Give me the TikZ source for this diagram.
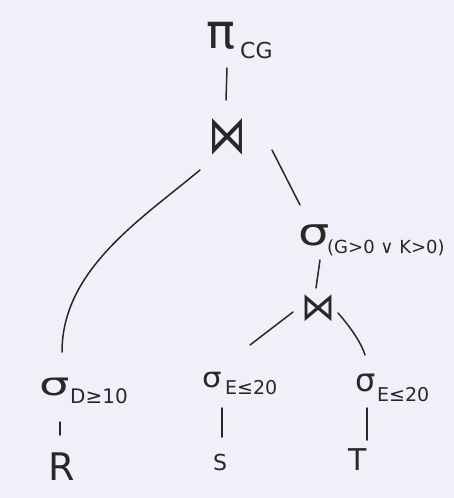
\documentclass[tikz,border=0pt]{standalone}
\usepackage{fontspec}
\setmainfont{DejaVu Sans}
\usetikzlibrary{calc}
\definecolor{paper}{RGB}{240,241,248}
\definecolor{ink}{RGB}{40,40,40}
\tikzset{
  sym/.style={inner sep=0pt, text=ink},
  sub/.style={inner sep=0pt, text=ink, anchor=west},
  edge/.style={draw=ink, line width=1.5pt, line cap=round}
}
\newcommand{\fs}[1]{\fontsize{#1}{#1}\selectfont}
\begin{document}
\begin{tikzpicture}[x=1pt,y=-1pt]
\fill[paper] (0,0) rectangle (454,498);
\useasboundingbox (0,0) rectangle (454,498);
% nodes
\node[sym] (pi) at (221,36) {\fs{48}π};
\node[sub] (picg) at (240,50) {\fs{22}CG};
\node[sym] (j1) at (227,137) {\scalebox{1}[1.4]{\fs{38}⋈}};
\node[sym] (s1) at (314,235) {\scalebox{1.3}[1]{\fs{38}σ}};
\node[sub] (s1sub) at (327,248) {\fs{18}(G>0 ∨ K>0)};
\node[sym] (j2) at (318,308) {\scalebox{1}[1.15]{\fs{34}⋈}};
\node[sym] (sD) at (55,387) {\scalebox{1.5}[1]{\fs{32}σ}};
\node[sub] (sDsub) at (70,396) {\fs{20}D≥10};
\node[sym] (sE1) at (212,380) {\scalebox{1.1}[1]{\fs{28}σ}};
\node[sub] (sE1sub) at (225,388) {\fs{19}E≤20};
\node[sym] (sE2) at (366,383) {\fs{32}σ};
\node[sub] (sE2sub) at (377,395) {\fs{19}E≤20};
\node[sym] (R) at (62,467) {\fs{38}R};
\node[sym] (S) at (220,462) {\fs{22}S};
\node[sym] (T) at (358,460) {\fs{30}T};
% connectors
\draw[edge] ($(pi)+(6,32)$) -- ($(j1)+(-1,-37)$);
\draw[edge] ($(j1)+(45,13)$) -- ($(s1)+(-14,-30)$);
\draw[edge] ($(j1)+(-27,33)$) .. controls ($(j1)+(-87,83)$) and ($(sD)+(7,-117)$) .. ($(sD)+(7,-35)$);
\draw[edge] ($(s1)+(6,25)$) -- ($(j2)+(-2,-20)$);
\draw[edge] ($(j2)+(-25,4)$) -- ($(sE1)+(38,-35)$);
\draw[edge] ($(j2)+(20,5)$) .. controls ($(j2)+(35,22)$) and ($(sE2)+(-4,-38)$) .. ($(sE2)+(-1,-28)$);
\draw[edge] ($(sD)+(5,35)$) -- ($(R)+(-2,-32)$);
\draw[edge] ($(sE1)+(10,28)$) -- ($(S)+(2,-25)$);
\draw[edge] ($(sE2)+(1,25)$) -- ($(T)+(9,-20)$);
\end{tikzpicture}
\end{document}
